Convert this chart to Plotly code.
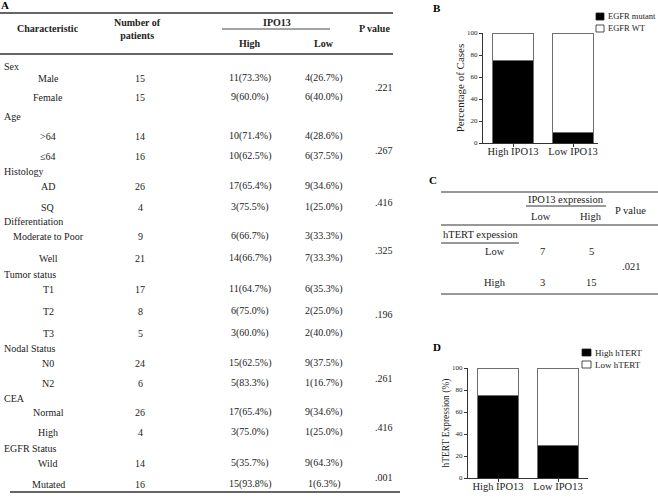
import plotly.graph_objects as go

W, H = 658, 501
SERIF = "Liberation Serif"
INK = "#222222"


def px(x):
    return x / W


def py(y):
    return 1 - y / H


# ---------------- Panel A data ----------------
groups = ["Sex", "Age", "Histology", "Differentiation", "Tumor status",
          "Nodal Status", "CEA", "EGFR Status"]
subgroups = [["Male", "Female"], [">64", "≤64"], ["AD", "SQ"],
             ["Moderate to Poor", "Well"], ["T1", "T2", "T3"],
             ["N0", "N2"], ["Normal", "High"], ["Wild", "Mutated"]]
n_patients = [[15, 15], [14, 16], [26, 4], [9, 21], [17, 8, 5],
              [24, 6], [26, 4], [14, 16]]
high_n = [[11, 9], [10, 10], [17, 3], [6, 14], [11, 6, 3], [15, 5], [17, 3], [5, 15]]
high_pct = [[73.3, 60.0], [71.4, 62.5], [65.4, 75.5], [66.7, 66.7],
            [64.7, 75.0, 60.0], [62.5, 83.3], [65.4, 75.0], [35.7, 93.8]]
low_n = [[4, 6], [4, 6], [9, 1], [3, 7], [6, 2, 2], [9, 1], [9, 1], [9, 1]]
low_pct = [[26.7, 40.0], [28.6, 37.5], [34.6, 25.0], [33.3, 33.3],
           [35.3, 25.0, 40.0], [37.5, 16.7], [34.6, 25.0], [64.3, 6.3]]
p_values = [".221", ".267", ".416", ".325", ".196", ".261", ".416", ".001"]

# ---------------- Panel B / D data ----------------
ipo_groups = ["High IPO13", "Low IPO13"]
egfr_mutant = [75, 10]
egfr_wt = [25, 90]
egfr_names = ["EGFR mutant", "EGFR WT"]
htert_high = [75, 30]
htert_low = [25, 70]
htert_names = ["High hTERT", "Low hTERT"]

# ---------------- Panel C data ----------------
c_rows = ["Low", "High"]
c_ipo_low = [7, 3]
c_ipo_high = [5, 15]
c_p = ".021"

annotations = []
shapes = []


def text(x, y, s, size=10, xanchor="center", bold=False, color=INK):
    annotations.append(dict(
        x=px(x), y=py(y), xref="paper", yref="paper",
        text=f"<b>{s}</b>" if bold else s, showarrow=False,
        xanchor=xanchor, yanchor="middle",
        font=dict(family=SERIF, size=size, color=color)))


def hline(x0, x1, y, width=1.2, color="#333333"):
    shapes.append(dict(type="line", xref="paper", yref="paper",
                       x0=px(x0), x1=px(x1), y0=py(y), y1=py(y),
                       line=dict(color=color, width=width)))


# ---------------- Panel A layout ----------------
text(5, 5, "A", size=11, bold=True, color="#000")
hline(0, 393, 13, width=1.4)
text(48, 28, "Characteristic", bold=True)
text(137, 29, "Number of<br>patients", bold=True)
text(277, 22, "IPO13", bold=True)
hline(222, 330, 29, width=0.9)
text(250, 44, "High", bold=True)
text(324, 44, "Low", bold=True)
text(374, 28, "P value", bold=True)
hline(0, 393, 54, width=1.4)

header_y = [67, 117, 171, 222, 274, 348, 398, 448]
item_y = [[78, 97], [136, 156], [186, 207], [236, 258], [289, 311, 333],
          [363, 383], [412, 432], [463, 484]]
p_y = [88, 151, 202, 250, 314, 378, 427, 477]

for g, grp in enumerate(groups):
    text(2, header_y[g], grp, xanchor="left")
    for i, sub in enumerate(subgroups[g]):
        yy = item_y[g][i]
        text(48, yy, sub)
        text(140, yy, str(n_patients[g][i]))
        text(250, yy, f"{high_n[g][i]}({high_pct[g][i]:.1f}%)")
        text(324, yy, f"{low_n[g][i]}({low_pct[g][i]:.1f}%)")
    text(384, p_y[g], p_values[g])
hline(10, 400, 492, width=1.4)

# ---------------- Panel C layout ----------------
CS = 10.5
text(433, 180, "C", size=11, bold=True, color="#000")
hline(441, 658, 192)
text(566, 199, "IPO13 expression", size=CS)
hline(526, 606, 206, width=1)
text(630, 210, "P value", size=CS)
text(541, 216, "Low", size=CS)
text(591, 216, "High", size=CS)
hline(441, 658, 225)
text(441, 235, "hTERT expession", size=CS, xanchor="left")
hline(441, 519, 243, width=1)
c_row_y = [252, 282]
for i, r in enumerate(c_rows):
    text(495, c_row_y[i], r, size=CS)
    text(542, c_row_y[i], str(c_ipo_low[i]), size=CS)
    text(591, c_row_y[i], str(c_ipo_high[i]), size=CS)
text(631, 266, c_p, size=CS)
hline(441, 658, 294)

# ---------------- Panel labels B, D ----------------
text(437, 8, "B", size=11, bold=True, color="#000")
text(437, 347, "D", size=11, bold=True, color="#000")

# ---------------- Bars ----------------
fig = go.Figure()
bar_line = dict(color="#6e6e6e", width=1)
fig.add_trace(go.Bar(x=ipo_groups, y=egfr_mutant, name=egfr_names[0],
                     marker=dict(color="black", line=bar_line), width=0.667,
                     xaxis="x", yaxis="y", showlegend=False))
fig.add_trace(go.Bar(x=ipo_groups, y=egfr_wt, name=egfr_names[1],
                     marker=dict(color="white", line=bar_line), width=0.667,
                     xaxis="x", yaxis="y", showlegend=False))
fig.add_trace(go.Bar(x=ipo_groups, y=htert_high, name=htert_names[0],
                     marker=dict(color="black", line=bar_line), width=0.667,
                     xaxis="x2", yaxis="y2", showlegend=False))
fig.add_trace(go.Bar(x=ipo_groups, y=htert_low, name=htert_names[1],
                     marker=dict(color="white", line=bar_line), width=0.667,
                     xaxis="x2", yaxis="y2", showlegend=False))


# manual legends
def legend_item(x, ytop, label, fill, size=8.5, w=8, h=7):
    shapes.append(dict(type="rect", xref="paper", yref="paper",
                       x0=px(x), x1=px(x + w), y0=py(ytop + h), y1=py(ytop),
                       fillcolor=fill, line=dict(color="#222", width=0.8)))
    text(x + w + 2, ytop + h / 2, label, size=size, xanchor="left")


legend_item(596, 13, egfr_names[0], "black")
legend_item(596, 25, egfr_names[1], "white")
legend_item(582, 349, htert_names[0], "black", size=9, w=9)
legend_item(582, 361, htert_names[1], "white", size=9, w=9)

axis_common = dict(showline=True, linecolor="#333333", linewidth=1,
                   ticks="outside", ticklen=3, tickcolor="#333333",
                   showgrid=False, zeroline=False, automargin=False)

fig.update_layout(
    width=W, height=H,
    margin=dict(l=0, r=0, t=0, b=0),
    paper_bgcolor="white", plot_bgcolor="white",
    barmode="stack",
    showlegend=False,
    font=dict(family=SERIF, color=INK),
    xaxis=dict(domain=[px(483), px(598)], range=[-0.5, 1.4167],
               tickfont=dict(family=SERIF, size=10.5, color=INK),
               ticklabelstandoff=-5,
               anchor="y", **axis_common),
    yaxis=dict(domain=[py(143), py(33)], range=[0, 100], dtick=20,
               tickfont=dict(family=SERIF, size=7, color=INK),
               title=dict(text="Percentage of Cases",
                          font=dict(family=SERIF, size=11, color=INK),
                          standoff=0),
               anchor="x", **axis_common),
    xaxis2=dict(domain=[px(468), px(588)], range=[-0.5, 1.5],
                tickfont=dict(family=SERIF, size=10.5, color=INK),
                ticklabelstandoff=-5,
                anchor="y2", **axis_common),
    yaxis2=dict(domain=[py(478), py(368)], range=[0, 100], dtick=20,
                tickfont=dict(family=SERIF, size=7, color=INK),
                title=dict(text="hTERT Expression (%)",
                           font=dict(family=SERIF, size=9.5, color=INK),
                           standoff=0),
                anchor="x2", **axis_common),
    annotations=annotations,
    shapes=shapes,
)

fig.write_html(
    "out.html",
    config={"displayModeBar": False, "staticPlot": True},
    post_script="document.body.style.margin='0';document.body.style.padding='0';"
                "document.body.style.overflow='hidden';",
)
